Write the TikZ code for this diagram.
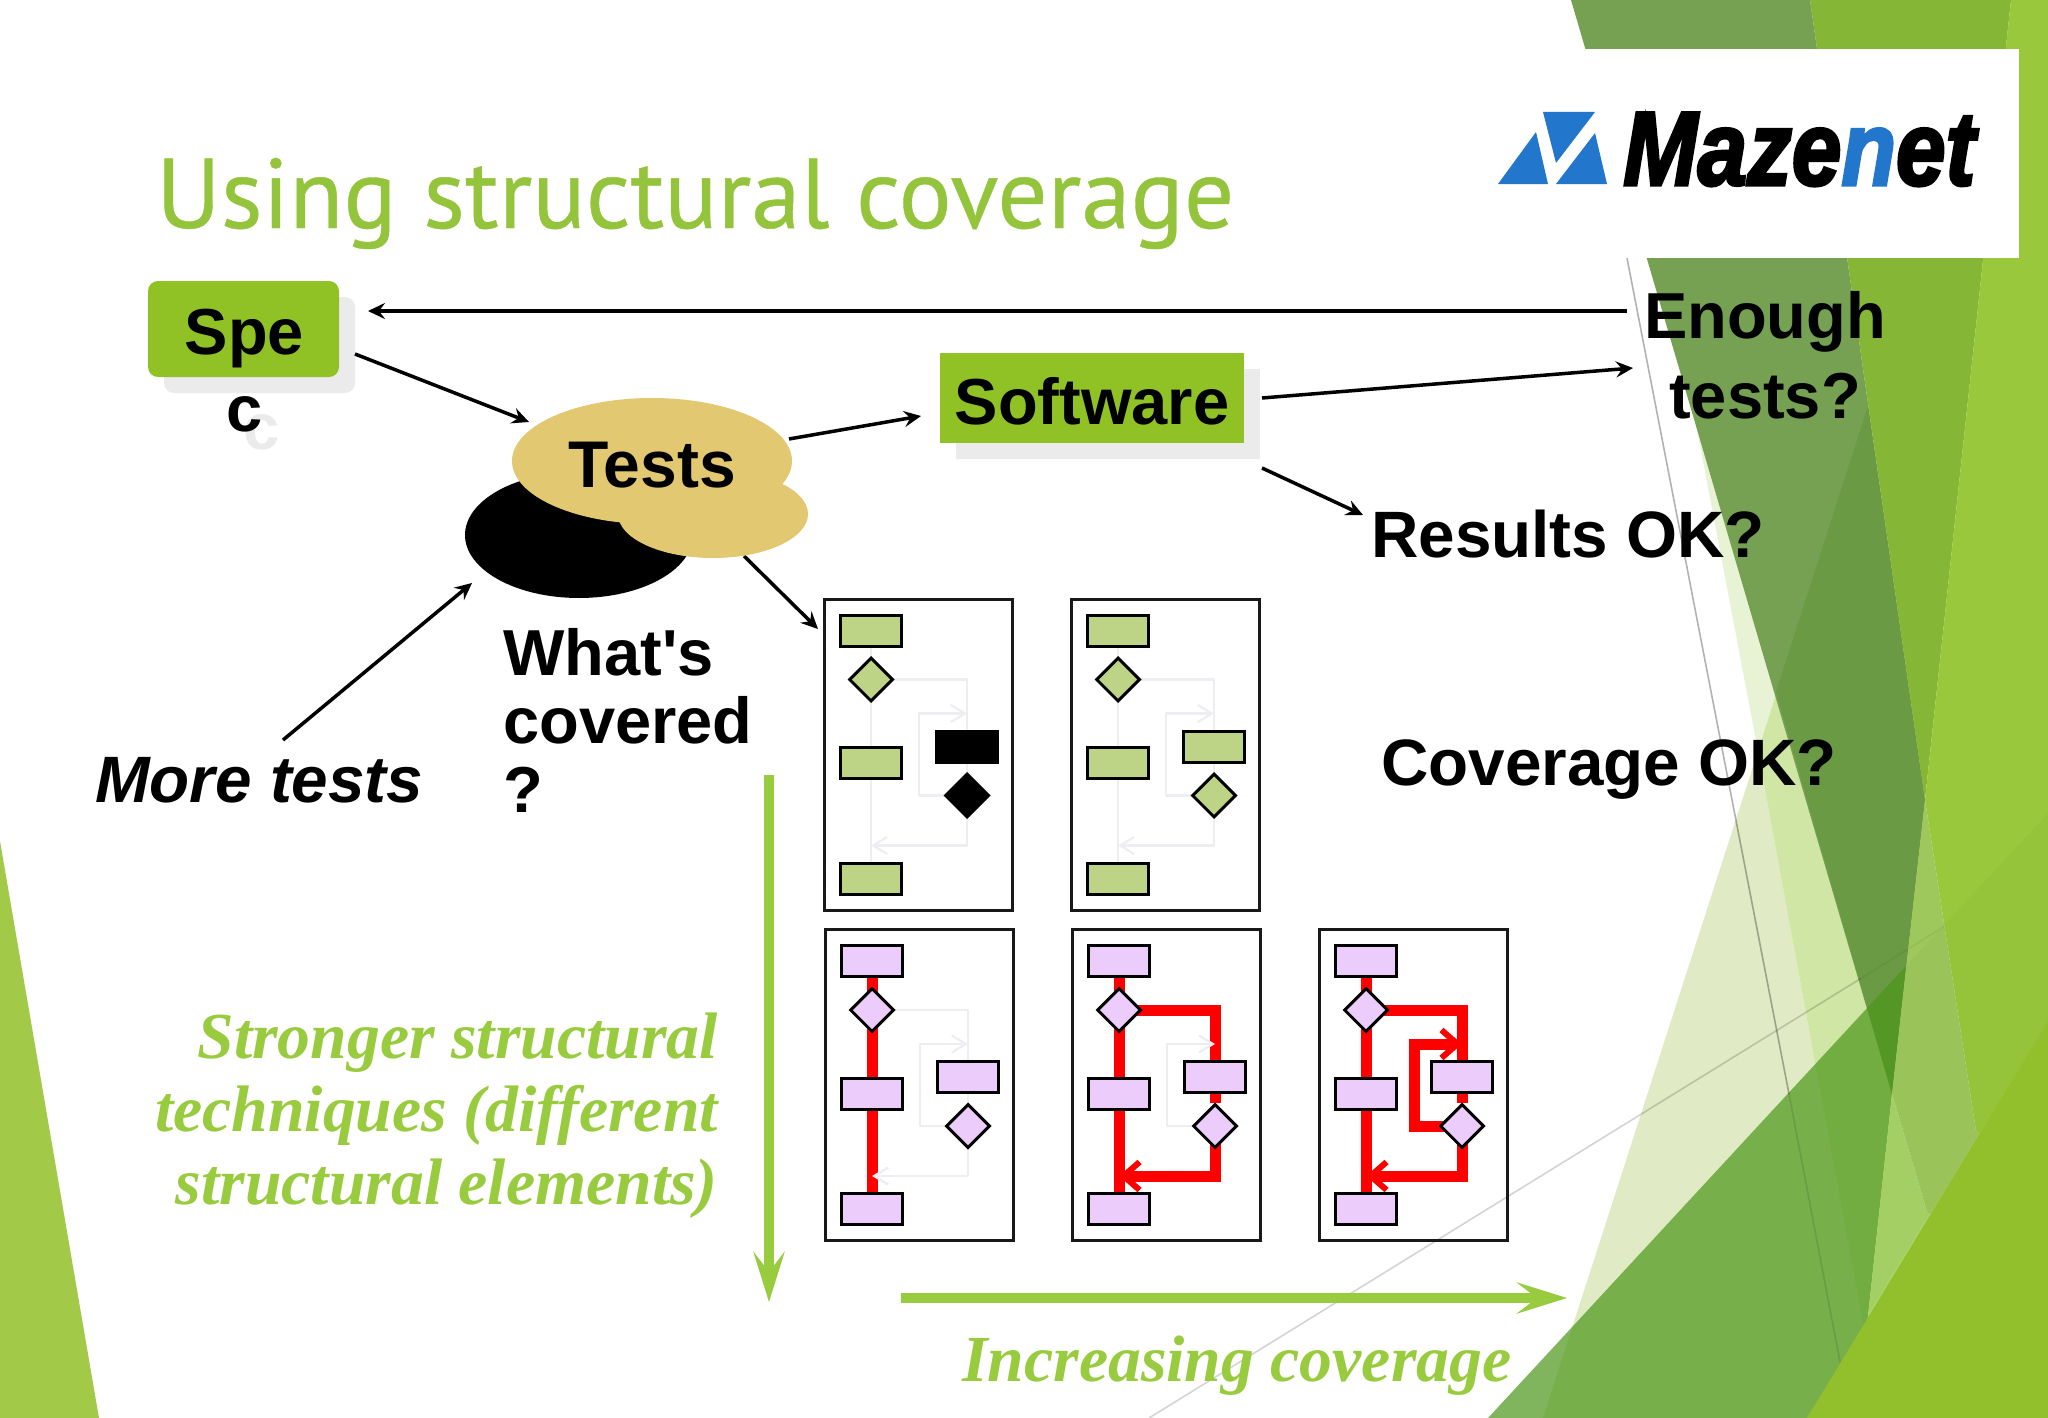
\documentclass[tikz,border=0pt]{standalone}
\usepackage{fontspec}
\usetikzlibrary{arrows.meta,shapes.geometric}
\setmainfont{Liberation Sans}
\newfontfamily\plainf{Liberation Sans}
\newfontfamily\serifb{Liberation Serif}
\newfontfamily\titlef[FakeBold=0.4]{PT Sans}
\newfontfamily\logof[BoldItalicFeatures={FakeBold=3}]{Liberation Sans}
\definecolor{accent}{HTML}{90C226}
\definecolor{titlec}{HTML}{94C43C}
\definecolor{gtext}{HTML}{99CB3F}
\definecolor{shad}{HTML}{EBEBEB}
\definecolor{tan}{HTML}{E3C872}
\definecolor{gboxf}{HTML}{BDD385}
\definecolor{pboxf}{HTML}{EBCCFA}
\definecolor{ghostc}{HTML}{EEEEF2}
\definecolor{logob}{HTML}{2277CC}
\definecolor{paleA}{HTML}{E0EAC4}
\definecolor{paleB}{HTML}{E8F2D4}
\definecolor{paleAB}{HTML}{D0E6A4}
\definecolor{facetD}{HTML}{76A052}
\definecolor{facetDA}{HTML}{6A9A44}
\definecolor{facetF}{HTML}{85B636}
\definecolor{facetR}{HTML}{99C83C}
\definecolor{facetRD}{HTML}{9EC85C}
\definecolor{facetRW}{HTML}{A8D468}
\definecolor{facetP}{HTML}{92C02C}
\definecolor{facetBig}{RGB}{75,150,25}
\definecolor{facetL}{HTML}{A2CA48}
\pgfdeclarelayer{deco}
\pgfdeclarelayer{wires}
\pgfsetlayers{deco,wires,main}
\tikzset{
  arr/.style={line width=3.5pt,draw=black,-{Stealth[length=17pt,width=16pt,inset=6pt]}},
  garr/.style={line width=10.5pt,draw=gtext,-{Stealth[length=50pt,width=31pt,inset=20pt]}},
  lbl/.style={font=\fontsize{65}{80}\selectfont\bfseries,inner sep=0pt,text=black},
  lblb/.style={lbl,font=\fontsize{65.6}{80}\selectfont\bfseries},
  serlbl/.style={font=\serifb\fontsize{65.7}{73}\selectfont\bfseries\itshape,inner sep=0pt,text=gtext},
  frameb/.style={draw=black!90,line width=3pt,minimum width=188pt,minimum height=311pt,inner sep=0pt},
  rectn/.style={draw=black,line width=3pt,minimum width=61pt,minimum height=31pt,inner sep=0pt},
  dian/.style={diamond,aspect=1,draw=black,line width=3pt,minimum width=44pt,minimum height=44pt,inner sep=0pt},
  gfill/.style={fill=gboxf},
  pfill/.style={fill=pboxf},
  kfill/.style={fill=black},
  ghost/.style={draw=ghostc,line width=2.2pt,line join=round},
  ghosta/.style={ghost,-{Straight Barb[length=14pt,width=17pt]}},
  redw/.style={draw=red,line width=11pt,line join=miter},
  reda/.style={redw,-{Straight Barb[length=16pt,width=28pt,line width=6pt]}},
}
\newcommand{\flowbox}[5]{%
  \begin{scope}[shift={(#1,#2)}]
    \node[frameb] (#3f) at (94.5,156) {};
    \node[rectn,#4] (#3a) at (47,32) {};
    \node[dian,#4] (#3d) at (47,81) {};
    \node[rectn,#4] (#3b) at (47,164.5) {};
    \node[rectn,#4] (#3c) at (47,280) {};
    \node[rectn,#5] (#3r) at (143,148) {};
    \node[dian,#5] (#3e) at (143,197) {};
    \coordinate (#3k1) at (143,81);
    \coordinate (#3l1) at (95,197);
    \coordinate (#3l2) at (95,115);
    \coordinate (#3l3) at (143,115);
    \coordinate (#3b1) at (143,247);
    \coordinate (#3b2) at (47,247);
  \end{scope}}
\newcommand{\ghostloop}[1]{%
  \draw[ghosta] (#1e.center) -- (#1l1) -- (#1l2) -- (#1l3);}
\newcommand{\ghostall}[1]{%
  \draw[ghost] (#1a) -- (#1c);
  \draw[ghost] (#1d.center) -- (#1k1) -- (#1r.center);
  \draw[ghost] (#1r) -- (#1e);
  \ghostloop{#1}
  \draw[ghosta] (#1e.center) -- (#1b1) -- (#1b2);}
\begin{document}
\begin{tikzpicture}[x=1pt,y=-1pt]
\useasboundingbox (0,0) rectangle (2048,1418);
\begin{pgfonlayer}{deco}
  \fill[white] (0,0) rectangle (2048,1418);
  % facets
  \fill[facetL] (0,841) -- (99,1418) -- (0,1418) -- cycle;
  \fill[paleB] (1696,424) -- (1868,406) -- (1758,751) -- cycle;
  \fill[paleA] (1543,1418) -- (1758,751) -- (1880,1418) -- cycle;
  \fill[paleAB] (1758,751) -- (1868,406) -- (1892,1094) -- (1880,1418) -- cycle;
  \fill[facetD] (1571,0) -- (1810,0) -- (1925,800) -- (1892,1094) -- cycle;
  \fill[facetDA] (1868,406) -- (1776,692) -- (1892,1094) -- (1925,800) -- cycle;
  \fill[facetBig,fill opacity=0.7] (1488,1418) -- (1906,966) -- (1892,1094) -- (1857,1418) -- cycle;
  \fill[facetF] (1810,0) -- (2011,0) -- (1925,800) -- cycle;
  \fill[facetR] (2011,0) -- (2048,0) -- (2048,1100) -- (1985,1140) -- (1976,1131) -- (1925,800) -- cycle;
  \fill[facetRD] (1925,800) -- (1976,1131) -- (1985,1140) -- (1940,1222) -- (1927,1212) -- (1892,1094) -- cycle;
  \fill[facetRW] (1892,1094) -- (1927,1212) -- (1940,1222) -- (1885,1325) -- (1857,1418) -- cycle;
  \fill[black,fill opacity=0.025] (1906,966) -- (2048,813) -- (2048,1021) -- (1869,1312) -- (1892,1094) -- cycle;
  \fill[facetP] (1807,1418) -- (2048,1021) -- (2048,1418) -- cycle;
  \draw[draw=black,draw opacity=0.3,line width=1.6pt] (1627,258) -- (1789,1094);
  \draw[draw=black,draw opacity=0.1,line width=1.6pt] (1789,1094) -- (1840,1362);
  \draw[draw=black,draw opacity=0.17,line width=1.6pt] (1149,1418) -- (1860,979);
  \draw[draw=black,draw opacity=0.05,line width=1.6pt] (1860,979) -- (1945,926);
  \fill[white] (1585,49) rectangle (2019,258);
  % logo
  \fill[logob] (1498,184) -- (1536,132) -- (1548,184) -- cycle;
  \fill[logob] (1543,112) -- (1595,112) -- (1556,163) -- cycle;
  \fill[logob] (1556,184) -- (1595,133) -- (1607,184) -- cycle;
  % shadows
  \fill[shad,rounded corners=10pt] (164,297) rectangle (355,393);
  \fill[shad] (956,369) rectangle (1260,459);
\end{pgfonlayer}

\node[anchor=base west,inner sep=0pt,text=titlec,font=\titlef\fontsize{99.2}{100}\selectfont] (title) at (156,228) {Using structural coverage};
\node[anchor=base west,inner sep=0pt,font=\logof\fontsize{105}{105}\selectfont\bfseries\itshape] (logo) at (1623,185) {\scalebox{0.85}[1]{Maze\textcolor{logob}{n}et}};

% Spec
\node[anchor=base,lbl,text=shad] (specsh) at (262,449) {c};
\node[fill=accent,rounded corners=10pt,minimum width=191pt,minimum height=96pt,inner sep=0pt] (spec) at (243.5,329) {};
\node[lbl,align=center,anchor=north,font=\fontsize{65}{77}\selectfont\bfseries] (spectxt) at (244.5,309) {Spe\\c};

% Tests
\node[ellipse,fill=black,minimum width=228pt,minimum height=126pt,inner sep=0pt] (cov) at (579,535) {};
\node[ellipse,fill=tan,minimum width=190pt,minimum height=88pt,inner sep=0pt] (tests2) at (713,514) {};
\node[ellipse,fill=tan,minimum width=280pt,minimum height=126pt,inner sep=0pt,lbl,font=\fontsize{66}{80}\selectfont\bfseries,text height=52pt,text depth=0pt] (tests) at (652,461) {Tests};

% Software
\node[fill=accent,minimum width=304pt,minimum height=90pt,inner sep=0pt,lbl,text height=52pt,text depth=0pt] (soft) at (1092,398) {Software};

% labels
\node[lbl,align=center,anchor=north] (enough) at (1765,291) {Enough\\tests?};
\node[lblb,anchor=base west] (results) at (1371,557) {Results OK?};
\node[lblb,anchor=base west] (covok) at (1381,785) {Coverage OK?};
\node[lbl,align=left,anchor=north west,font=\plainf\fontsize{65}{68.5}\selectfont\bfseries] (whats) at (503,628) {What's\\covered\\?};
\node[lbl,anchor=base west,font=\fontsize{65.6}{65}\selectfont\bfseries\itshape] (more) at (95,802) {More tests};
\node[serlbl,align=right,anchor=north east] (strong) at (718,1013) {Stronger structural\\techniques (different\\structural elements)};
\node[serlbl,anchor=base west] (incr) at (962,1381) {Increasing coverage};

% flow boxes
\flowbox{824}{598.5}{p}{gfill}{kfill}
\flowbox{1071}{598.5}{q}{gfill}{gfill}
\flowbox{825}{929}{u}{pfill}{pfill}
\flowbox{1072}{929}{v}{pfill}{pfill}
\flowbox{1319}{929}{w}{pfill}{pfill}

% connector ends
\coordinate (e1s) at (1627,311); \coordinate (e1t) at (368,311);
\coordinate (e2s) at (355,354);  \coordinate (e2t) at (529,422);
\coordinate (e3s) at (789,439);  \coordinate (e3t) at (921,416);
\coordinate (e4s) at (1262,398); \coordinate (e4t) at (1633,368);
\coordinate (e5s) at (1262,468); \coordinate (e5t) at (1363,515);
\coordinate (e6s) at (744,556);  \coordinate (e6t) at (818,629);
\coordinate (e7s) at (283,740);  \coordinate (e7t) at (472,583);
\coordinate (g1s) at (769,775);  \coordinate (g1t) at (769,1302);
\coordinate (g2s) at (901,1298); \coordinate (g2t) at (1567,1298);

\begin{pgfonlayer}{wires}
  \draw[arr] (e1s) -- (e1t);
  \draw[arr] (e2s) -- (e2t);
  \draw[arr] (e3s) -- (e3t);
  \draw[arr] (e4s) -- (e4t);
  \draw[arr] (e5s) -- (e5t);
  \draw[arr] (e6s) -- (e6t);
  \draw[arr] (e7s) -- (e7t);
  \draw[garr] (g1s) -- (g1t);
  \draw[garr] (g2s) -- (g2t);
  \ghostall{p}
  \ghostall{q}
  % third box
  \ghostall{u}
  \draw[redw] (ua) -- (uc);
  \draw[ghosta] (ub1) -- (ub2);
  % fourth box
  \draw[redw] (va) -- (vc);
  \draw[redw] (vd.center) -- (vk1) -- (vr.center);
  \draw[redw] (vr) -- (ve);
  \draw[reda] (ve.center) -- (vb1) -- (vb2);
  \ghostloop{v}
  % fifth box
  \draw[redw] (wa) -- (wc);
  \draw[redw] (wd.center) -- (wk1) -- (wr.center);
  \draw[redw] (wr) -- (we);
  \draw[reda] (we.center) -- (wb1) -- (wb2);
  \draw[reda] (we.center) -- (wl1) -- (wl2) -- (wl3);
\end{pgfonlayer}
\end{tikzpicture}
\end{document}
